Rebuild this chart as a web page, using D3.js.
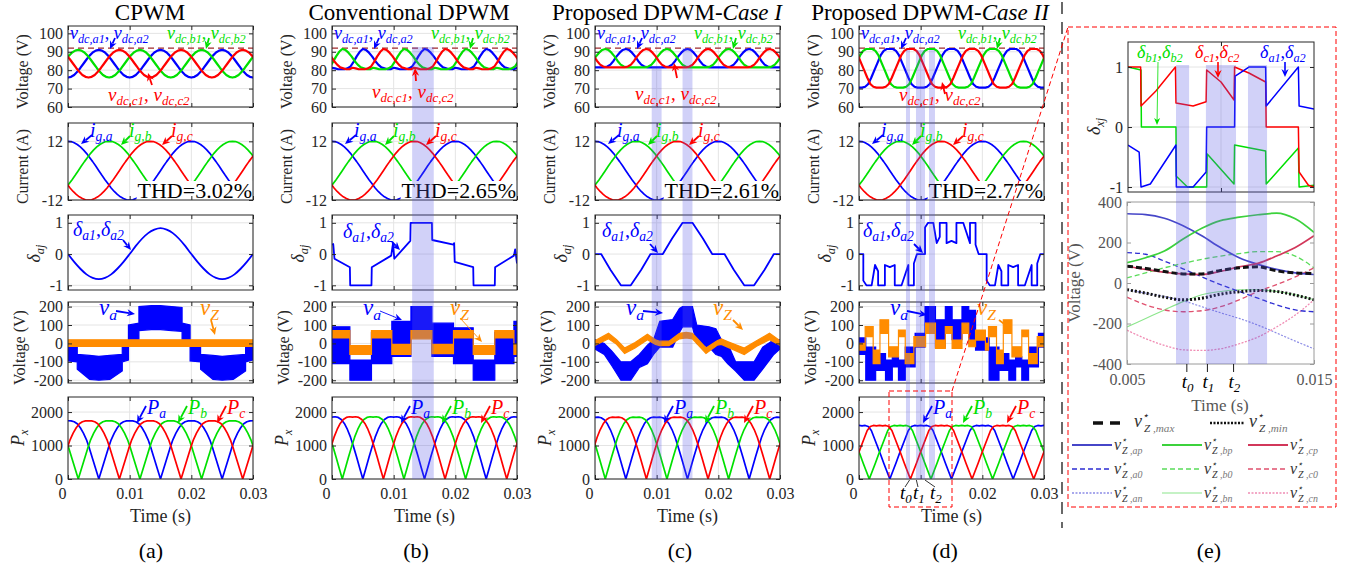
<!DOCTYPE html>
<html>
<head>
<meta charset="utf-8">
<script src="https://cdn.jsdelivr.net/npm/d3@7"></script>
<style>
  body { margin: 0; background: #fff; }
  svg text { font-family: "Liberation Serif", "Times New Roman", serif; }
</style>
</head>
<body>
<svg id="fig" width="1352" height="567" font-family="Liberation Serif, serif"></svg>
<script>
// ---------------- data ----------------
const timeTicks = [0, 0.01, 0.02, 0.03];
const timeTickLabels = ['0', '0.01', '0.02', '0.03'];
const sampleStep = 0.0005;        // spacing of the periodic arrays
const ripplePeriod = 0.01;        // dc-link / power ripple period (s)
const gridPeriod = 0.02;          // 50 Hz
const phaseDelay = [0, 0.02 / 3, 0.04 / 3];   // phases a, b, c

const titleText = ['CPWM', 'Conventional DPWM', 'Proposed DPWM-', 'Proposed DPWM-'];
const titleCase = ['', '', 'Case I', 'Case II'];
const thdText = ['THD=3.02%', 'THD=2.65%', 'THD=2.61%', 'THD=2.77%'];
const panelTags = ['(a)', '(b)', '(c)', '(d)', '(e)'];
const dcLimit = 92;

// dc-link voltage of phase a over one ripple period, every 0.5 ms (V)
const vdcCpwm  = [76, 76.4, 77.4, 79.1, 81.2, 83.5, 85.8, 87.9, 89.6, 90.6, 91, 90.6, 89.6, 87.9, 85.8, 83.5, 81.2, 79.1, 77.4, 76.4, 76];
const vdcConv  = [81.3, 81, 80.5, 80.5, 80.5, 81, 82, 84.5, 87.5, 90, 91.5, 91, 89.5, 87.5, 85, 83, 81.5, 81, 80.5, 80.5, 81.3];
const vdcCase1 = [81.5, 81.5, 81.5, 81.5, 82, 83, 85, 87.5, 89.5, 91, 91.5, 91, 89.5, 87.5, 85, 83, 82, 81.5, 81.5, 81.5, 81.5];
const vdcCase2 = [70.5, 70.5, 71, 72.5, 76, 80, 84, 88, 90.5, 91.5, 91.5, 91.5, 90.5, 88, 84, 80, 76, 72.5, 71, 70.5, 70.5];

// grid current of phase a over one grid period, every 0.5 ms (A)
const gridCurrent = [12, 11.9, 11.4, 10.7, 9.7, 8.5, 7.1, 5.4, 3.7, 1.9, 0, -1.9, -3.7, -5.4, -7.1, -8.5, -9.7, -10.7, -11.4, -11.9, -12,
  -11.9, -11.4, -10.7, -9.7, -8.5, -7.1, -5.4, -3.7, -1.9, 0, 1.9, 3.7, 5.4, 7.1, 8.5, 9.7, 10.7, 11.4, 11.9, 12];

// power of phase a over one ripple period, every 0.5 ms (W)
const powerCpwm  = [1740, 1735, 1710, 1650, 1530, 1370, 1170, 900, 600, 300, 0, 300, 600, 900, 1170, 1370, 1530, 1650, 1710, 1735, 1740];
const powerConv  = [1850, 1860, 1840, 1780, 1660, 1480, 1250, 960, 650, 320, 0, 320, 650, 960, 1250, 1480, 1660, 1780, 1840, 1860, 1850];
const powerCase1 = [1840, 1850, 1830, 1770, 1650, 1470, 1240, 950, 640, 320, 0, 320, 640, 950, 1240, 1470, 1650, 1770, 1830, 1850, 1840];
const powerCase2 = [1600, 1590, 1600, 1570, 1450, 1210, 970, 730, 480, 240, 0, 240, 480, 730, 970, 1210, 1450, 1570, 1600, 1590, 1600];

// duty cycle of phase a, [t, value]
const dutyCpwm = [[0, 0], [0.001, -0.25], [0.002, -0.47], [0.003, -0.65], [0.004, -0.76], [0.005, -0.8], [0.006, -0.76], [0.007, -0.65], [0.008, -0.47], [0.009, -0.25],
  [0.010, 0], [0.011, 0.26], [0.012, 0.49], [0.013, 0.67], [0.014, 0.78], [0.015, 0.83], [0.016, 0.78], [0.017, 0.67], [0.018, 0.49], [0.019, 0.26],
  [0.020, 0], [0.021, -0.25], [0.022, -0.47], [0.023, -0.65], [0.024, -0.76], [0.025, -0.8], [0.026, -0.76], [0.027, -0.65], [0.028, -0.47], [0.029, -0.25], [0.030, 0]];
const dutyConv = [[0, 0.3], [0.0002, 0.32], [0.0004, -0.15], [0.0029, -0.42], [0.00295, -1], [0.0064, -1], [0.00645, -0.42], [0.0096, -0.05], [0.0099, 0.35], [0.0101, -0.15],
  [0.0127, 0.42], [0.01275, 1], [0.0162, 1], [0.01625, 0.45], [0.0197, 0.3], [0.0198, 0.35], [0.0199, -0.25], [0.0229, -0.42], [0.02295, -1], [0.0264, -1],
  [0.02645, -0.42], [0.0295, -0.05], [0.0297, 0.15], [0.03, -0.3]];
const dutyCase1 = [[0, 0], [0.001, 0], [0.0025, -0.5], [0.0042, -1], [0.0058, -1], [0.0075, -0.5], [0.009, 0], [0.011, 0], [0.0125, 0.5], [0.0142, 1], [0.0158, 1],
  [0.0175, 0.5], [0.019, 0], [0.021, 0], [0.0225, -0.5], [0.0242, -1], [0.0258, -1], [0.0275, -0.5], [0.029, 0], [0.03, 0]];
const dutyCase2 = [[0, 0], [0.0007, 0], [0.0007, -0.85], [0.0012, -1], [0.00205, -1], [0.0026, -0.35], [0.0031, -0.55], [0.0031, -1], [0.0042, -1], [0.0042, -0.35],
  [0.005, -0.42], [0.0058, -0.35], [0.0058, -1], [0.0069, -1], [0.008, -0.35], [0.008, -1], [0.0089, -1], [0.0089, -0.3], [0.0094, 0],
  [0.0107, 0], [0.0107, 0.85], [0.0112, 1], [0.01205, 1], [0.0126, 0.35], [0.0131, 0.55], [0.0131, 1], [0.0142, 1], [0.0142, 0.35], [0.015, 0.42], [0.0158, 0.35],
  [0.0158, 1], [0.0169, 1], [0.018, 0.35], [0.018, 1], [0.0189, 1], [0.0189, 0.3], [0.0194, 0],
  [0.0207, 0], [0.0207, -0.85], [0.0212, -1], [0.02205, -1], [0.0226, -0.35], [0.0231, -0.55], [0.0231, -1], [0.0242, -1], [0.0242, -0.35], [0.025, -0.42],
  [0.0258, -0.35], [0.0258, -1], [0.0269, -1], [0.028, -0.35], [0.028, -1], [0.0289, -1], [0.0289, -0.3], [0.0294, 0], [0.03, 0]];

// switched phase voltage v_a and zero-sequence v_Z, [t, low, high] (V)
const vaCpwm = [[0, -95, 15], [0.0015, -100, 15], [0.0015, -140, -60], [0.0035, -195, -65], [0.005, -200, -70], [0.0068, -195, -65], [0.0088, -150, -60], [0.0088, -100, 15],
  [0.0098, -90, 15], [0.0098, -10, 100], [0.0115, -10, 110], [0.0115, 70, 200], [0.0135, 75, 205], [0.015, 75, 205], [0.0168, 70, 200], [0.0185, 65, 195], [0.0185, -10, 110],
  [0.0198, -10, 100], [0.0198, -95, 15], [0.0215, -100, 15], [0.0215, -140, -60], [0.0235, -195, -65], [0.025, -200, -70], [0.0268, -195, -65], [0.0288, -150, -60],
  [0.0288, -100, 15], [0.03, -90, 15]];
const vzCpwm = [[0, -16, 20], [0.03, -16, 20]];
const vaConv = [[0, -110, 90], [0.0029, -110, 90], [0.0029, -200, -90], [0.0064, -200, -90], [0.0064, -110, 60], [0.0097, -110, 60], [0.0097, -70, 120], [0.0128, -70, 120],
  [0.0128, 60, 200], [0.0162, 60, 200], [0.0162, -70, 110], [0.0197, -70, 110], [0.0197, -110, 85], [0.0229, -110, 85], [0.0229, -200, -90], [0.0264, -200, -90],
  [0.0264, -110, 60], [0.0295, -110, 60], [0.0295, -70, 120], [0.03, -70, 120]];
const vzConv = [[0, 30, 70], [0.0029, 30, 70], [0.0029, -60, -12], [0.0064, -60, -12], [0.0064, 30, 70], [0.0097, 30, 70], [0.0097, -60, -5], [0.0128, -60, -5],
  [0.0128, 25, 70], [0.0162, 25, 70], [0.0162, -55, -5], [0.0197, -55, -5], [0.0197, 30, 70], [0.0229, 30, 70], [0.0229, -60, -12], [0.0264, -60, -12],
  [0.0264, 30, 70], [0.0295, 30, 70], [0.0295, -60, -5], [0.03, -60, -5]];
const vaCase1 = [[0, -30, 20], [0.0015, -60, 0], [0.0027, -120, -40], [0.0042, -200, -100], [0.0058, -200, -100], [0.0072, -130, -60], [0.0085, -110, -10], [0.0095, -60, 20],
  [0.0105, -20, 120], [0.0126, -20, 130], [0.0137, 60, 190], [0.0142, 90, 200], [0.0158, 90, 200], [0.0165, 0, 100], [0.0185, -20, 90], [0.0196, -60, 80], [0.0205, -70, 20],
  [0.0215, -110, 0], [0.0228, -150, -100], [0.0242, -200, -100], [0.0258, -200, -100], [0.0272, -140, -20], [0.029, -60, 20], [0.03, -30, 20]];
const vzCase1 = [[0, -10, 15], [0.0022, 25, 55], [0.0035, -5, 20], [0.0048, -55, -25], [0.0065, -25, 5], [0.0085, 20, 50], [0.0098, -5, 20], [0.0105, -12, 12],
  [0.012, -12, 12], [0.0137, 25, 55], [0.0148, 30, 60], [0.0158, 25, 55], [0.018, -55, -25], [0.0198, -10, 15], [0.0205, -5, 25], [0.0215, -20, 10], [0.0242, -60, -25],
  [0.0262, -15, 15], [0.0283, 20, 55], [0.03, -10, 15]];
const vaCase2 = [[0, -60, 30], [0.0011, -60, 30], [0.0011, -200, -20], [0.0027, -200, -20], [0.0027, -147, -55], [0.0043, -147, -55], [0.0043, -200, -90], [0.0054, -200, -90],
  [0.0054, -128, -73], [0.0064, -128, -73], [0.0064, -200, -90], [0.0075, -200, -90], [0.0075, -128, -20], [0.0091, -128, -20], [0.0091, -20, 55], [0.0107, -20, 55],
  [0.0107, 75, 200], [0.0124, 75, 200], [0.0124, -20, 128], [0.014, -20, 128], [0.014, 75, 200], [0.0151, 75, 200], [0.0151, 20, 128], [0.0167, 20, 128],
  [0.0167, 75, 200], [0.0178, 75, 200], [0.0178, 0, 180], [0.0189, 0, 180], [0.0189, -36, 30], [0.0211, -36, 30], [0.0211, -200, -20], [0.0227, -200, -20],
  [0.0227, -147, -55], [0.0243, -147, -55], [0.0243, -200, -90], [0.0254, -200, -90], [0.0254, -128, -73], [0.0264, -128, -73], [0.0264, -200, -90], [0.0275, -200, -90],
  [0.0275, -128, -20], [0.0291, -128, -20], [0.0291, -20, 55], [0.03, -20, 55]];
const vzCase2 = [[0, -36, 0], [0.001, -36, 0], [0.001, 37, 92], [0.0023, 37, 92], [0.0023, -110, -36], [0.0034, -110, -36], [0.0034, 55, 128], [0.0048, 55, 128],
  [0.0048, -73, -18], [0.0064, -73, -18], [0.0064, 37, 73], [0.0075, 37, 73], [0.0075, -110, -55], [0.0089, -110, -55], [0.0089, -18, 37], [0.0108, -18, 37],
  [0.0108, 55, 110], [0.0124, 55, 110], [0.0124, -27, 18], [0.014, -27, 18], [0.014, 55, 92], [0.0151, 55, 92], [0.0151, -27, 18], [0.0167, -27, 18],
  [0.0167, 55, 110], [0.0178, 55, 110], [0.0178, -18, 18], [0.0189, -18, 18], [0.0189, 18, 73], [0.0205, 18, 73], [0.0205, -36, 0], [0.021, -36, 0],
  [0.021, 37, 92], [0.0223, 37, 92], [0.0223, -110, -36], [0.0234, -110, -36], [0.0234, 55, 128], [0.0248, 55, 128], [0.0248, -73, -18], [0.0264, -73, -18],
  [0.0264, 37, 73], [0.0275, 37, 73], [0.0275, -110, -55], [0.0289, -110, -55], [0.0289, -18, 37], [0.03, -18, 37]];

// highlighted intervals (s)
const bandsCpwm = [];
const bandsConv = [[0.0130, 0.0165]];
const bandsCase1 = [[0.0092, 0.0108], [0.0142, 0.0158]];
const bandsCase2 = [[0.00762, 0.00827], [0.00924, 0.0107], [0.01135, 0.01232]];
const markTimes = [0.0082, 0.0093, 0.0107];   // t0, t1, t2

// panel (e): zoomed detail 5 ms .. 15 ms
const zoomTime = [0.005, 0.006, 0.007, 0.008, 0.009, 0.010, 0.011, 0.012, 0.013, 0.014, 0.015];
const vzMaxRef = [83, 72, 57, 45, 45, 62, 75, 80, 60, 50, 47];
const vzMinRef = [-33, -50, -70, -83, -75, -55, -43, -37, -42, -60, -83];
const vzAp = [342, 338, 320, 283, 233, 175, 125, 92, 67, 50, 42];
const vzBp = [100, 125, 158, 217, 270, 308, 325, 337, 345, 317, 250];
const vzCp = [83, 67, 53, 45, 42, 58, 80, 97, 133, 175, 233];
const vzA0 = [150, 142, 108, 70, 30, -8, -42, -75, -108, -133, -142];
const vzB0 = [25, 50, 75, 97, 117, 133, 145, 155, 155, 133, 75];
const vzC0 = [-70, -108, -133, -142, -137, -117, -83, -42, -8, 30, 75];
const vzAn = [-33, -50, -67, -88, -117, -147, -175, -208, -247, -287, -325];
const vzBn = [-217, -175, -133, -92, -58, -42, -33, -33, -42, -58, -83];
const vzCn = [-233, -275, -308, -330, -333, -325, -300, -267, -217, -158, -83];
const zoomDutyA = [[0.005, -0.3], [0.0056, -0.42], [0.0057, -1], [0.0062, -0.95], [0.00758, -0.3], [0.0076, -1], [0.0085, -1], [0.0092, -0.75], [0.00923, 0],
  [0.01073, 0], [0.01076, 0.85], [0.0115, 1], [0.0124, 1], [0.01243, 0.35], [0.01416, 1], [0.0142, 0.35], [0.015, 0.3]];
const zoomDutyB = [[0.005, 1], [0.0057, 0.95], [0.00572, 0], [0.00758, 0], [0.0076, -0.82], [0.0081, -0.97], [0.0082, -1], [0.00923, -1], [0.00926, -0.45],
  [0.0107, -0.95], [0.01073, -0.3], [0.0124, -0.4], [0.01243, -0.95], [0.01416, -0.35], [0.0142, -1], [0.015, -0.97]];
const zoomDutyC = [[0.005, 1], [0.00568, 1], [0.0057, 0.35], [0.0065, 0.6], [0.00755, 1], [0.00758, 0.4], [0.0085, 0.35], [0.0092, 0.42], [0.00923, 0.95],
  [0.0100, 0.75], [0.0107, 0.45], [0.01073, 1], [0.0115, 0.9], [0.0124, 0.75], [0.01243, 0], [0.01416, 0], [0.0142, -0.75], [0.0147, -0.97], [0.015, -1]];
const zoomBands = [[0.00762, 0.00832], [0.00922, 0.01083], [0.01147, 0.01249]];

// ---------------- layout ----------------
const colLeft = [68, 332, 595, 859];
const colWidth = 185;
const rowTop = [26, 123, 215, 302, 397];
const rowBottom = [107, 200, 290, 383, 479];
const rowDomain = [[60, 104], [-12, 19.5], [-1.15, 1.25], [-215, 225], [0, 2450]];
const rowTicks = [[60, 70, 80, 90, 100], [-12, 12], [-1, 0, 1], [-200, -100, 0, 100, 200], [0, 1000, 2000]];
const blue = '#0000ff', green = '#00e000', red = '#ff0000', orange = '#ff8c00';
const phaseColors = [blue, green, red];
const ink = '#262626';
const serifCss = '"Liberation Serif", "Times New Roman", serif';

const columns = [
  { vdc: vdcCpwm, power: powerCpwm, duty: dutyCpwm, va: vaCpwm, vz: vzCpwm, bands: bandsCpwm, bandTop: [], smooth: true },
  { vdc: vdcConv, power: powerConv, duty: dutyConv, va: vaConv, vz: vzConv, bands: bandsConv, bandTop: [47] },
  { vdc: vdcCase1, power: powerCase1, duty: dutyCase1, va: vaCase1, vz: vzCase1, bands: bandsCase1, bandTop: [66, 48] },
  { vdc: vdcCase2, power: powerCase2, duty: dutyCase2, va: vaCase2, vz: vzCase2, bands: bandsCase2, bandTop: [50, 50, 50] }
];

const svg = d3.select('#fig');
const defs = svg.append('defs');
let clipCount = 0;

function clipped(g, x0, y0, w, h) {
  const id = 'clip' + (clipCount++);
  defs.append('clipPath').attr('id', id).append('rect')
    .attr('x', x0).attr('y', y0).attr('width', w).attr('height', h);
  return g.append('g').attr('clip-path', `url(#${id})`);
}

function addGrid(g, x, y, xT, yT, color) {
  const [xa, xb] = x.range(), [ya, yb] = y.range();
  g.append('g').selectAll('line').data(xT).join('line')
    .attr('x1', d => x(d)).attr('x2', d => x(d)).attr('y1', ya).attr('y2', yb)
    .attr('stroke', color || '#e4e4e4').attr('stroke-width', 1);
  g.append('g').selectAll('line').data(yT).join('line')
    .attr('y1', d => y(d)).attr('y2', d => y(d)).attr('x1', xa).attr('x2', xb)
    .attr('stroke', color || '#e4e4e4').attr('stroke-width', 1);
}

function addAxes(g, x, y, xT, yT, opt = {}) {
  const [x0, x1] = x.range(), [y1, y0] = y.range();
  const col = opt.frame || ink;
  const fs = opt.fontSize || 16;
  const axes = [];
  axes.push(g.append('g').attr('transform', `translate(0,${y1})`)
    .call(d3.axisBottom(x).tickValues(xT).tickSize(-4).tickPadding(opt.xPad || 9)
      .tickFormat((d, i) => opt.xLabels ? opt.xLabels[i] : '')));
  axes.push(g.append('g').attr('transform', `translate(0,${y0})`)
    .call(d3.axisTop(x).tickValues(xT).tickSize(-4).tickFormat('')));
  axes.push(g.append('g').attr('transform', `translate(${x0},0)`)
    .call(d3.axisLeft(y).tickValues(yT).tickSize(-4).tickPadding(5).tickFormat(d => String(d))));
  axes.push(g.append('g').attr('transform', `translate(${x1},0)`)
    .call(d3.axisRight(y).tickValues(yT).tickSize(-4).tickFormat('')));
  axes.forEach(a => {
    a.attr('font-family', null);
    a.select('.domain').remove();
    a.selectAll('line').attr('stroke', col);
    a.selectAll('text').attr('fill', opt.text || ink).style('font-size', fs + 'px').style('font-family', serifCss);
  });
  if (opt.firstDx) axes[0].select('.tick text').attr('dx', opt.firstDx);
  g.append('rect').attr('x', x0).attr('y', y0).attr('width', x1 - x0).attr('height', y1 - y0)
    .attr('fill', 'none').attr('stroke', col).attr('stroke-width', 1);
}

// math-like label: segments [text, kind, dx]; kinds: i italic, r roman, s subscript, p superscript
function mathText(g, x, y, segs, opt) {
  const size = opt.size || 18;
  const t = g.append('text').attr('x', x).attr('y', y).attr('fill', opt.color || ink)
    .attr('text-anchor', opt.anchor || 'start').style('font-size', size + 'px').style('font-family', serifCss);
  let cur = 0;
  segs.forEach(([s, kind, dx]) => {
    let target = 0, fs = size;
    if (kind === 's') { target = size * (opt.subShift || 0.2); fs = size * (opt.subScale || 0.68); }
    if (kind === 'p') { target = -size * 0.42; fs = size * 0.6; }
    const ts = t.append('tspan').text(s).attr('dy', target - cur).style('font-size', fs + 'px')
      .style('font-style', kind === 'r' ? 'normal' : 'italic');
    if (dx) ts.attr('dx', dx);
    if (opt.subColor && kind === 's' && s.startsWith(' ,')) ts.attr('fill', opt.subColor);
    cur = target;
  });
  if (opt.rotate) t.attr('transform', `rotate(-90,${x},${y})`);
  return t;
}

function arrow(g, x1, y1, x2, y2, color, opt = {}) {
  const w = opt.width || 1.8, hl = opt.head || 8, hw = opt.headW || 3.6;
  const dx = x2 - x1, dy = y2 - y1, L = Math.hypot(dx, dy), ux = dx / L, uy = dy / L;
  const bx = x2 - ux * hl, by = y2 - uy * hl;
  g.append('line').attr('x1', x1).attr('y1', y1).attr('x2', bx + ux * 2).attr('y2', by + uy * 2)
    .attr('stroke', color).attr('stroke-width', w);
  g.append('path')
    .attr('d', `M${x2},${y2}L${bx - uy * hw},${by + ux * hw}L${bx + ux * hl * 0.3},${by + uy * hl * 0.3}L${bx + uy * hw},${by - ux * hw}Z`)
    .attr('fill', color);
}

function periodicPoints(values, period, delay, t0, t1) {
  const pts = [], n = values.length - 1;
  const k0 = Math.floor((t0 - delay) / period) - 1, k1 = Math.ceil((t1 - delay) / period) + 1;
  for (let k = k0; k <= k1; k++)
    for (let i = 0; i < n; i++) pts.push([delay + k * period + i * sampleStep, values[i]]);
  return pts;
}

function drawLine(g, x, y, pts, color, width, opt = {}) {
  const line = d3.line().x(d => x(d[0])).y(d => y(d[1])).curve(opt.curve || d3.curveLinear);
  return g.append('path').attr('d', line(pts)).attr('fill', 'none').attr('stroke', color)
    .attr('stroke-width', width).attr('stroke-linejoin', 'round')
    .attr('stroke-dasharray', opt.dash || null).attr('opacity', opt.opacity || 1);
}

function drawBand(g, x, y, rows, color, opacity) {
  const area = d3.area().x(d => x(d[0])).y0(d => y(d[1])).y1(d => y(d[2]));
  g.append('path').attr('d', area(rows)).attr('fill', color).attr('opacity', opacity || 1)
    .attr('stroke', color).attr('stroke-width', 1.2);
}

function plainText(g, x, y, s, opt = {}) {
  const t = g.append('text').attr('x', x).attr('y', y).text(s)
    .attr('fill', opt.color || ink).attr('text-anchor', opt.anchor || 'middle')
    .style('font-size', (opt.size || 16) + 'px').style('font-family', serifCss);
  if (opt.rotate) t.attr('transform', `rotate(-90,${x},${y})`);
  if (opt.italic) t.style('font-style', 'italic');
  return t;
}

// ---------------- columns (a)-(d) ----------------
const titleX = [150, 409, 667, 930];
const tagX = [151, 416, 680, 945];

columns.forEach((col, ci) => {
  const L = colLeft[ci];
  const g = svg.append('g');
  const x = d3.scaleLinear().domain([0, 0.03]).range([L, L + colWidth]);
  const ys = rowDomain.map((dom, r) => d3.scaleLinear().domain(dom).range([rowBottom[r], rowTop[r]]));
  const plots = ys.map((y, r) => {
    addGrid(g, x, y, timeTicks, rowTicks[r]);
    return clipped(g, L, rowTop[r], colWidth, rowBottom[r] - rowTop[r]);
  });

  // row 1: dc-link voltages
  plots[0].append('line').attr('x1', L).attr('x2', L + colWidth).attr('y1', ys[0](dcLimit)).attr('y2', ys[0](dcLimit))
    .attr('stroke', '#a0282d').attr('stroke-width', 1.2).attr('stroke-dasharray', '6,4');
  phaseDelay.forEach((dl, k) =>
    drawLine(plots[0], x, ys[0], periodicPoints(col.vdc, ripplePeriod, dl, 0, 0.03), phaseColors[k], 2.2));
  // row 2: grid currents
  phaseDelay.forEach((dl, k) =>
    drawLine(plots[1], x, ys[1], periodicPoints(gridCurrent, gridPeriod, dl, 0, 0.03), phaseColors[k], 1.7));
  // row 3: duty cycle
  drawLine(plots[2], x, ys[2], col.duty, blue, 1.8, { curve: col.smooth ? d3.curveMonotoneX : d3.curveLinear });
  // row 4: v_a and v_Z
  drawBand(plots[3], x, ys[3], col.va, blue);
  drawBand(plots[3], x, ys[3], col.vz, orange);
  // row 5: power
  phaseDelay.forEach((dl, k) =>
    drawLine(plots[4], x, ys[4], periodicPoints(col.power, ripplePeriod, dl, 0, 0.03), phaseColors[k], 1.7));

  // THD label with white box
  const thd = plainText(g, L + 184, 198, thdText[ci], { anchor: 'end', size: 22, color: '#000' });
  const bb = thd.node().getBBox();
  g.insert('rect', () => thd.node()).attr('x', bb.x - 1).attr('y', bb.y + 3).attr('width', bb.width + 2).attr('height', bb.height - 4).attr('fill', '#fff');

  ys.forEach((y, r) => addAxes(g, x, y, timeTicks, rowTicks[r],
    r === 4 ? { xLabels: ci === 3 ? ['0', '', '0.02', '0.03'] : timeTickLabels, firstDx: -6 } : {}));

  // highlighted intervals
  col.bands.forEach((b, bi) => {
    g.append('rect').attr('x', x(b[0])).attr('width', x(b[1]) - x(b[0]))
      .attr('y', col.bandTop[bi]).attr('height', rowBottom[4] - col.bandTop[bi])
      .attr('fill', '#5a5ae6').attr('opacity', 0.28);
  });

  // axis titles
  const midY = r => (rowTop[r] + rowBottom[r]) / 2;
  plainText(g, L - 40, midY(0) + 5, 'Voltage (V)', { rotate: true, size: 16 });
  plainText(g, L - 40, midY(1) + 5, 'Current (A)', { rotate: true, size: 16 });
  mathText(g, L - 28, midY(2) + 10, [['δ', 'i'], ['aj', 's']], { rotate: true, size: 18 });
  plainText(g, L - 43, midY(3) + 5, 'Voltage (V)', { rotate: true, size: 16 });
  mathText(g, L - 44, midY(4) + 8, [['P', 'i'], ['x', 's']], { rotate: true, size: 18 });
  plainText(g, L + colWidth / 2, 522, 'Time (s)', { size: 18 });
  plainText(g, tagX[ci], 558, panelTags[ci], { size: 22, color: '#000' });

  const title = g.append('text').attr('x', titleX[ci]).attr('y', 20).attr('text-anchor', 'middle')
    .attr('fill', '#000').style('font-size', '23px').style('font-family', serifCss);
  title.append('tspan').text(titleText[ci]);
  if (titleCase[ci]) title.append('tspan').text(titleCase[ci]).style('font-style', 'italic');

  // annotations
  const an = svg.append('g');
  const redY = [101, 98, 100, 101][ci];
  mathText(an, L + 2, 39, [['v', 'i'], ['dc,a1', 's'], [', ', 'r'], ['v', 'i'], ['dc,a2', 's']], { color: blue, size: 18 });
  mathText(an, L + 99, 39, [['v', 'i'], ['dc,b1', 's'], [', ', 'r'], ['v', 'i'], ['dc,b2', 's']], { color: green, size: 18 });
  mathText(an, L + 40, redY, [['v', 'i'], ['dc,c1', 's'], [', ', 'r'], ['v', 'i'], ['dc,c2', 's']], { color: red, size: 19 });
  arrow(an, L + 47, 38, L + 42, 49, blue);
  arrow(an, L + 141, 38, L + 138, 49, green);
  const ra = [[84, 85, 80, 73], [84, 81, 83, 68], [82, 78, 79, 63], [86, 94, 83, 82]][ci];
  arrow(an, L + ra[0], ra[1], L + ra[2], ra[3], red);

  mathText(an, L + 22, 137, [['i', 'i'], ['g,a', 's']], { color: blue, size: 20 });
  mathText(an, L + 61, 137, [['i', 'i'], ['g,b', 's']], { color: green, size: 20 });
  mathText(an, L + 103, 137, [['i', 'i'], ['g,c', 's']], { color: red, size: 20 });
  arrow(an, L + 24, 135, L + 13, 144, blue);
  arrow(an, L + 62, 136, L + 53, 145, green);
  arrow(an, L + 104, 136, L + 94, 145, red);

  const da = [[5, 236, 55, 240, 63, 250], [11, 238, 60, 242, 68, 250], [7, 237, 55, 244, 63, 253], [4, 237, 55, 244, 64, 253]][ci];
  mathText(an, L + da[0], da[1], [['δ', 'i'], ['a1', 's'], [',', 'r'], ['δ', 'i'], ['a2', 's']], { color: blue, size: 20 });
  arrow(an, L + da[2], da[3], L + da[4], da[5], blue);

  mathText(an, L + 31, 315, [['v', 'i'], ['a', 's']], { color: blue, size: 23 });
  mathText(an, L + [132, 118, 118, 118][ci], 315, [['v', 'i'], ['Z', 's']], { color: orange, size: 23 });
  const thin = ci === 1;
  arrow(an, L + 48, 311, L + [67, 70, 68, 68][ci], [314, 320, 313, 315][ci], blue, thin ? { width: 0.9 } : {});
  const vzA = [[143, 320, 147, 335], [128, 318, 150, 342], [138, 320, 148, 330], [140, 320, 153, 330]][ci];
  arrow(an, L + vzA[0], vzA[1], L + vzA[2], vzA[3], orange, thin ? { width: 0.9 } : {});

  const pOff = ci === 3 ? [-5, -6, -1] : [0, 0, 0];
  ['a', 'b', 'c'].forEach((ph, k) => {
    const lx = L + [79, 120, 159][k] + pOff[k];
    mathText(an, lx, 414, [['P', 'i'], [ph, 's']], { color: phaseColors[k], size: 20 });
    arrow(an, lx - 1, 406, lx - 10, 423, phaseColors[k]);
  });

  if (ci === 3) {
    // t0 t1 t2 markers
    const lblX = [905, 918, 935];
    markTimes.forEach((tm, k) => {
      an.append('line').attr('x1', x(tm)).attr('y1', 480).attr('x2', lblX[k]).attr('y2', 487)
        .attr('stroke', '#000').attr('stroke-width', 0.8);
      mathText(an, lblX[k] - 5, 499, [['t', 'i'], [String(k), 's']], { color: '#000', size: 19 });
    });
  }
});

// ---------------- panel (e) ----------------
const ge = svg.append('g');
ge.append('line').attr('x1', 1062).attr('x2', 1062).attr('y1', 2).attr('y2', 528)
  .attr('stroke', '#444').attr('stroke-width', 1.6).attr('stroke-dasharray', '12,8');

const xe = d3.scaleLinear().domain([0.005, 0.015]).range([1128, 1314]);
const yDuty = d3.scaleLinear().domain([-1.083, 1.417]).range([192, 42]);
addGrid(ge, xe, yDuty, [0.01], [-1, 0, 1]);
const pe1 = clipped(ge, 1128, 42, 186, 150);
[[zoomDutyB, green], [zoomDutyC, red], [zoomDutyA, blue]].forEach(([d, c]) => drawLine(pe1, xe, yDuty, d, c, 1.5));
addAxes(ge, xe, yDuty, [0.01], [-1, 0, 1], {});
mathText(ge, 1100, 135, [['δ', 'i'], ['xj', 's']], { rotate: true, size: 18 });

const yZ = d3.scaleLinear().domain([-400, 400]).range([364, 202]);
const xe2 = d3.scaleLinear().domain([0.005, 0.015]).range([1127, 1314]);
const pe2 = clipped(ge, 1127, 202, 187, 162);
const zoomLine = (vals, color, w, dash, op) =>
  drawLine(pe2, xe2, yZ, zoomTime.map((t, i) => [t, vals[i]]), color, w, { curve: d3.curveMonotoneX, dash, opacity: op });
zoomLine(vzAn, '#8c8ce6', 1.2, '2,1.5');
zoomLine(vzBn, '#8ce68c', 1.1);
zoomLine(vzCn, '#f08cb4', 1.3, '2,1.5');
zoomLine(vzA0, '#2d2dd2', 1.3, '5,3');
zoomLine(vzB0, '#5adc5a', 1.3, '5,3');
zoomLine(vzC0, '#e0506e', 1.3, '5,3');
zoomLine(vzAp, '#4646c8', 1.7);
zoomLine(vzBp, '#3cd23c', 1.7);
zoomLine(vzCp, '#d2375a', 1.7);
zoomLine(vzMaxRef, '#111', 3, '6,3');
zoomLine(vzMinRef, '#111', 3, '2,2');
addAxes(ge, xe2, yZ, [0.005, 0.015], [-400, -200, 0, 200, 400],
  { frame: '#9a9a9a', text: '#555', xLabels: ['0.005', '0.015'], fontSize: 16, xPad: 10 });
plainText(ge, 1080, 283, 'Voltage (V)', { rotate: true, size: 17, color: '#555' });
plainText(ge, 1220, 411, 'Time (s)', { size: 17, color: '#555' });

// highlighted intervals across both zoomed axes
zoomBands.forEach(b => {
  ge.append('rect').attr('x', xe2(b[0])).attr('width', xe2(b[1]) - xe2(b[0]))
    .attr('y', 65).attr('height', 299).attr('fill', '#5a5ae6').attr('opacity', 0.28);
});
markTimes.forEach((tm, k) => {
  ge.append('line').attr('x1', xe2(tm)).attr('x2', xe2(tm)).attr('y1', 364).attr('y2', 372)
    .attr('stroke', '#000').attr('stroke-width', 0.9);
  mathText(ge, xe2(tm) - 5, 388, [['t', 'i'], [String(k), 's']], { color: '#000', size: 19 });
});

// labels of the zoomed duty cycles
mathText(ge, 1137, 58, [['δ', 'i'], ['b1', 's'], [',', 'r'], ['δ', 'i'], ['b2', 's']], { color: green, size: 18 });
mathText(ge, 1195, 58, [['δ', 'i'], ['c1', 's'], [',', 'r'], ['δ', 'i'], ['c2', 's']], { color: red, size: 18 });
mathText(ge, 1260, 58, [['δ', 'i'], ['a1', 's'], [',', 'r'], ['δ', 'i'], ['a2', 's']], { color: blue, size: 18 });
arrow(ge, 1158, 62, 1157, 125, green, { width: 0.8, head: 7, headW: 3 });
arrow(ge, 1218, 62, 1218, 78, red, { width: 1.6 });
arrow(ge, 1285, 62, 1285, 77, blue, { width: 1.6 });

// legend
const lg = svg.append('g');
const legLabel = (x, y, sub, size) =>
  mathText(lg, x, y, [['v', 'i'], ['⋆', 'p'], ['Z', 's', -5], [sub, 's']], { size: size || 17, color: '#333', subScale: 0.62, subColor: '#777', subShift: 0.25 });
lg.append('line').attr('x1', 1093).attr('x2', 1126).attr('y1', 423).attr('y2', 423).attr('stroke', '#111').attr('stroke-width', 3.5).attr('stroke-dasharray', '10,7');
legLabel(1134, 427, ' ,max', 18);
lg.append('line').attr('x1', 1210).attr('x2', 1244).attr('y1', 423).attr('y2', 423).attr('stroke', '#111').attr('stroke-width', 2.5).attr('stroke-dasharray', '2,1.5');
legLabel(1249, 427, ' ,min', 18);
const legendRows = [
  [['#4646c8', null, 1.8, ' ,ap'], ['#3cd23c', null, 1.8, ' ,bp'], ['#d2375a', null, 1.8, ' ,cp']],
  [['#2d2dd2', '5,3', 1.3, ' ,a0'], ['#5adc5a', '5,3', 1.3, ' ,b0'], ['#e0506e', '5,3', 1.3, ' ,c0']],
  [['#8c8ce6', '2,1.5', 1.3, ' ,an'], ['#8ce68c', null, 1.1, ' ,bn'], ['#f08cb4', '2,1.5', 1.3, ' ,cn']]
];
const legX = [1072, 1162, 1248];
legendRows.forEach((row, ri) => {
  const yy = 445 + ri * 24;
  row.forEach(([c, dash, w, sub], k) => {
    lg.append('line').attr('x1', legX[k]).attr('x2', legX[k] + 40).attr('y1', yy).attr('y2', yy)
      .attr('stroke', c).attr('stroke-width', w).attr('stroke-dasharray', dash);
    legLabel(legX[k] + 42, yy + 5, sub, 16);
  });
});
plainText(svg, 1209, 558, panelTags[4], { size: 22, color: '#000' });

// red zoom frames
const rz = svg.append('g').attr('fill', 'none').attr('stroke', red).attr('stroke-width', 1).attr('stroke-dasharray', '5,3');
rz.append('rect').attr('x', 889).attr('y', 391).attr('width', 63).attr('height', 116);
rz.append('rect').attr('x', 1068).attr('y', 27).attr('width', 268).attr('height', 480);
rz.append('line').attr('x1', 952).attr('y1', 391).attr('x2', 1068).attr('y2', 27);
</script>
</body>
</html>
